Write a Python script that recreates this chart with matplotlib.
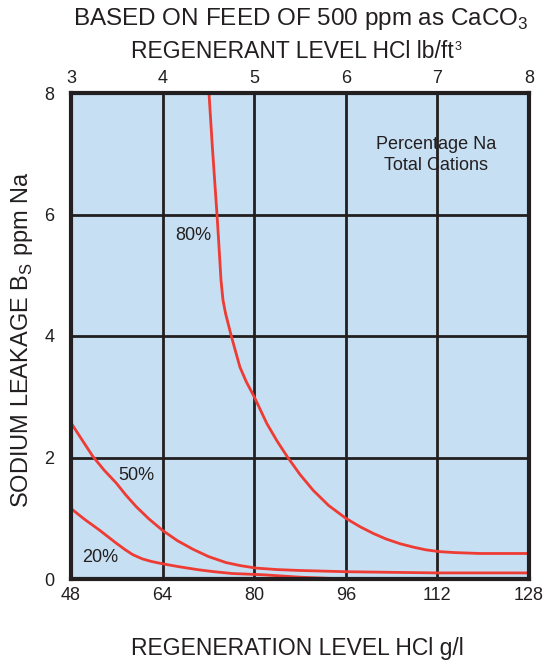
import matplotlib.pyplot as plt
import numpy as np

plt.rcParams['font.family'] = ['Liberation Sans', 'DejaVu Sans']

# regeneration level g/l vs sodium leakage ppm Na
x80 = [72.1, 72.7, 73.5, 73.75, 74.2, 74.55, 75.0, 76.0, 77.5, 78.6, 80.0, 82.2, 84.0,
       85.8, 88.0, 90.3, 93.0, 96.0, 98.5, 100.8, 103.0, 105.5, 108.0, 110.0,
       112.4, 115.0, 119.4, 128.0]
y80 = [8.0, 7.1, 6.0, 5.63, 4.92, 4.59, 4.37, 4.0, 3.49, 3.25, 3.0, 2.56, 2.27,
       2.01, 1.72, 1.46, 1.21, 1.0, 0.86, 0.75, 0.66, 0.58, 0.52, 0.48,
       0.45, 0.435, 0.42, 0.42]

x50 = [48.0, 50.0, 51.8, 53.8, 55.9, 57.6, 59.4, 61.6, 64.0, 66.6, 69.3, 72.0,
       75.1, 77.6, 80.3, 84.0, 88.0, 96.0, 104.0, 112.0, 128.0]
y50 = [2.57, 2.28, 2.02, 1.79, 1.58, 1.38, 1.19, 0.99, 0.80, 0.63, 0.49, 0.37,
       0.27, 0.22, 0.18, 0.155, 0.14, 0.12, 0.11, 0.10, 0.10]

x20 = [48.0, 50.4, 52.9, 55.9, 57.5, 58.8, 60.5, 62.0, 64.0, 67.0, 70.4, 73.0,
       76.2, 81.5, 88.0, 96.0]
y20 = [1.16, 0.98, 0.81, 0.59, 0.48, 0.40, 0.33, 0.29, 0.25, 0.20, 0.15, 0.12,
       0.09, 0.07, 0.03, 0.0]

labels = ['80%', '50%', '20%']
label_pos = [(69.3, 5.65), (59.4, 1.70), (53.1, 0.35)]

x_ticks = [48, 64, 80, 96, 112, 128]
top_ticks = [3, 4, 5, 6, 7, 8]
y_ticks = [0, 2, 4, 6, 8]

ink = '#231f20'
red = '#ee3b33'

fig = plt.figure(figsize=(5.46, 6.63), dpi=100)
ax = fig.add_axes([71 / 546, 1 - 579 / 663, 458 / 546, 486 / 663])
ax.set_facecolor('#c6dff2')

for xs, ys in [(x80, y80), (x50, y50), (x20, y20)]:
    ax.plot(xs, ys, color=red, lw=2, zorder=3, solid_joinstyle='round')

for lab, (lx, ly) in zip(labels, label_pos):
    ax.text(lx, ly, lab, fontsize=13, color=ink, ha='center', va='center')
ax.text(111.8, 6.98, 'Percentage Na\nTotal Cations', fontsize=13, color=ink,
        ha='center', va='center', linespacing=1.35)

ax.set_xlim(48, 128)
ax.set_ylim(0, 8)
ax.set_xticks(x_ticks)
ax.set_yticks(y_ticks)
ax.grid(True, color=ink, lw=2)
ax.set_axisbelow(True)
ax.tick_params(length=0, labelsize=13, colors=ink, pad=6)
ax.tick_params(axis='y', pad=12)
for s in ax.spines.values():
    s.set_linewidth(3)
    s.set_color(ink)
    s.set_zorder(4)

top = ax.twiny()
top.set_xlim(3, 8)
top.set_xticks(top_ticks)
top.tick_params(length=0, labelsize=13, colors=ink, pad=4)
for s in top.spines.values():
    s.set_visible(False)

fig.text(297 / 546, 1 - 648 / 663, 'REGENERATION LEVEL HCl g/l', fontsize=16.5,
         color=ink, ha='center', va='center')
fig.text(22 / 546, 1 - 340 / 663, 'SODIUM LEAKAGE B$_\\mathregular{S}$ ppm Na', fontsize=17,
         color=ink, ha='center', va='center', rotation=90)
fig.text(292 / 546, 1 - 52 / 663, 'REGENERANT LEVEL HCl lb/ft', fontsize=16.5,
         color=ink, ha='center', va='center')
fig.text(455 / 546, 1 - 47 / 663, '3', fontsize=9, color=ink, ha='left', va='center')
fig.text(301 / 546, 1 - 19 / 663, 'BASED ON FEED OF 500 ppm as CaCO$_\\mathregular{3}$', fontsize=17.5,
         color=ink, ha='center', va='center')

fig.savefig('out.png', dpi=100)
